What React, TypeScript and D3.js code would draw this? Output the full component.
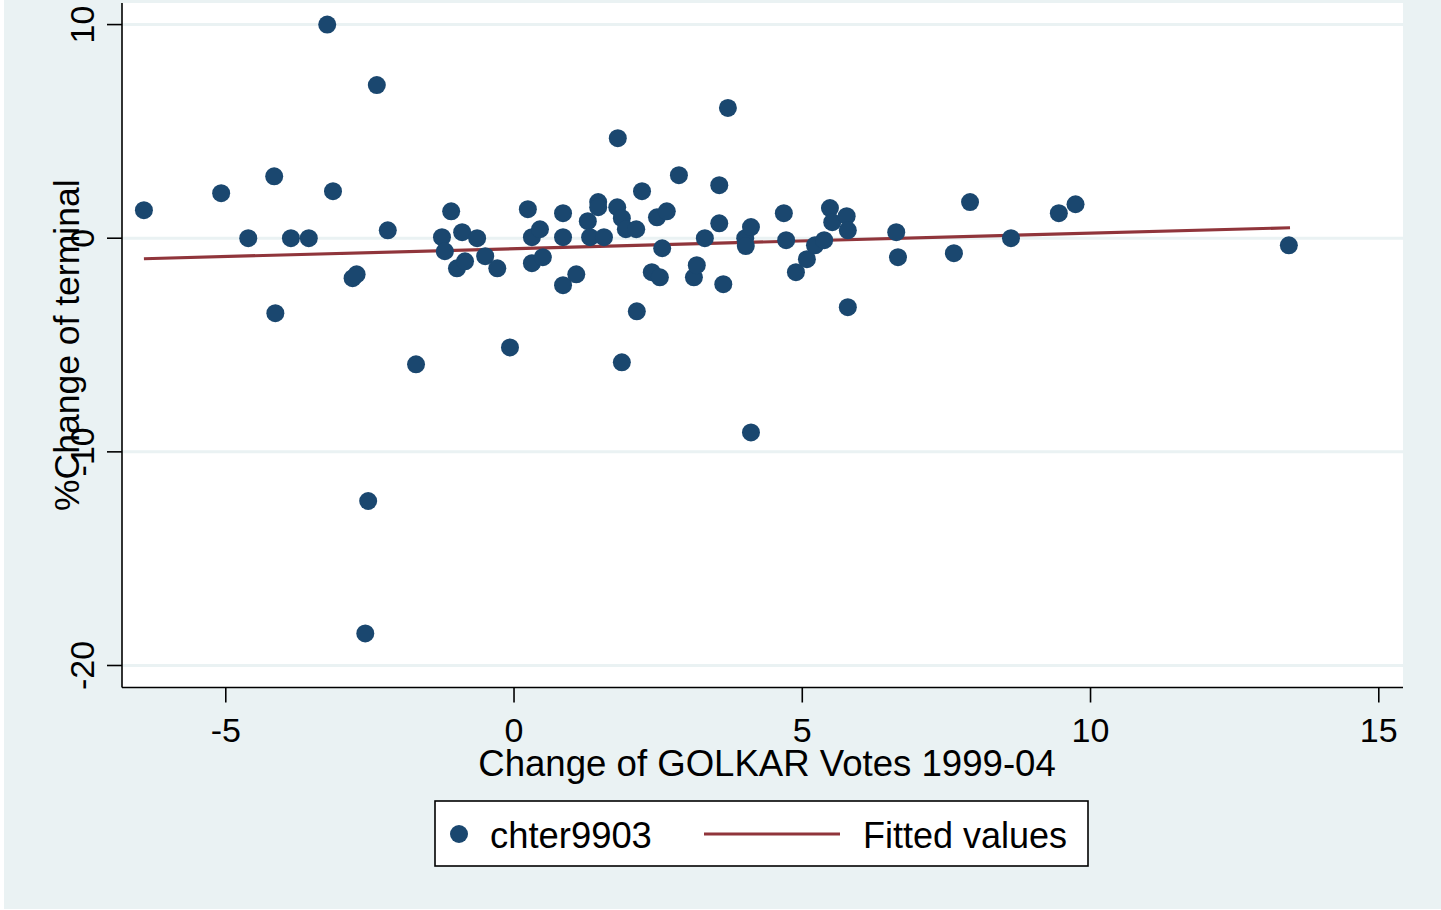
import React from "react";
import * as d3 from "d3";

// ---- data ----
const pointX: number[] = [
  -6.42, -5.08, -4.61, -4.16, -4.14, -3.87, -3.56, -3.24, -3.14, -2.8,
  -2.73, -2.38, -2.53, -2.58, -2.19, -1.7, -1.25, -1.2, -1.09, -0.9,
  -0.99, -0.85, -0.64, -0.5, -0.29, -0.07, 0.24, 0.31, 0.45, 0.31,
  0.5, 0.85, 0.85, 0.85, 1.08, 1.28, 1.32, 1.46, 1.46, 1.56,
  1.79, 1.87, 1.94, 2.12, 1.8, 2.22, 1.87, 2.13, 2.48, 2.65,
  2.57, 2.39, 2.53, 2.86, 3.12, 3.17, 3.31, 3.56, 3.56, 3.63,
  3.71, 4.01, 4.11, 4.02, 4.11, 4.68, 4.72, 4.89, 5.08, 5.22,
  5.38, 5.48, 5.52, 5.77, 5.79, 5.79, 6.63, 6.66, 7.63, 7.91,
  8.62, 9.45, 9.74, 13.44,
];
const pointY: number[] = [
  1.31, 2.11, 0, 2.9, -3.51, 0, 0, 10.0, 2.2, -1.87,
  -1.69, 7.17, -12.3, -18.5, 0.37, -5.9, 0.05, -0.61, 1.26, 0.28,
  -1.41, -1.08, 0, -0.84, -1.41, -5.11, 1.36, 0.05, 0.42, -1.17,
  -0.89, 1.17, 0.05, -2.2, -1.69, 0.8, 0.05, 1.69, 1.45, 0.05,
  1.45, 0.94, 0.42, 0.42, 4.68, 2.2, -5.81, -3.42, 0.98, 1.26,
  -0.47, -1.59, -1.83, 2.95, -1.83, -1.26, 0, 2.48, 0.7, -2.15,
  6.1, 0, 0.52, -0.37, -9.09, 1.17, -0.09, -1.59, -0.98, -0.33,
  -0.09, 1.41, 0.75, 1.03, 0.37, -3.23, 0.28, -0.89, -0.7, 1.69,
  0, 1.17, 1.59, -0.33,
];
const fitX: number[] = [-6.42, 13.46];
const fitY: number[] = [-0.96, 0.49];

const xTicks: number[] = [-5, 0, 5, 10, 15];
const yTicks: number[] = [-20, -10, 0, 10];
const xTitle = "Change of GOLKAR Votes 1999-04";
const yTitle = "%Change of terminal";
const legendLabels: string[] = ["chter9903", "Fitted values"];

// ---- styles ----
const W = 1441;
const H = 910;
const BG = "#EAF2F3";
const MARKER = "#1A476F";
const LINE = "#90353B";
const FONT = "'Liberation Sans', Arial, Helvetica, sans-serif";

export default function App() {
  const plot = { left: 122, right: 1403, top: 3, bottom: 687.5 };
  const x = d3.scaleLinear().domain([-6.8, 15.42]).range([plot.left, plot.right]);
  const y = d3.scaleLinear().domain([-21.03, 11.01]).range([plot.bottom, plot.top]);

  const lineGen = d3
    .line<[number, number]>()
    .x((d) => x(d[0]))
    .y((d) => y(d[1]));
  const fitPts: [number, number][] = fitX.map((v, i) => [v, fitY[i]]);

  const legend = { x: 435, y: 801, w: 653, h: 65 };
  const legendMid = legend.y + legend.h / 2 + 0.5;

  return (
    <div style={{ position: "absolute", left: 0, top: 0, width: W, height: H, overflow: "hidden" }}>
      <svg width={W} height={H} style={{ display: "block" }} fontFamily={FONT}>
        <rect x={0} y={0} width={W} height={H} fill="#ffffff" />
        <rect x={4} y={0} width={W - 4} height={909} fill={BG} />
        <rect
          x={plot.left}
          y={plot.top}
          width={plot.right - plot.left}
          height={plot.bottom - plot.top}
          fill="#ffffff"
        />
        {/* gridlines */}
        {yTicks.map((t) => (
          <line
            key={"g" + t}
            x1={plot.left}
            x2={plot.right}
            y1={y(t)}
            y2={y(t)}
            stroke={BG}
            strokeWidth={3}
          />
        ))}
        {/* fitted line */}
        <path d={lineGen(fitPts) || ""} fill="none" stroke={LINE} strokeWidth={3.2} />
        {/* points */}
        {pointX.map((v, i) => (
          <circle key={"p" + i} cx={x(v)} cy={y(pointY[i])} r={9} fill={MARKER} />
        ))}
        {/* axes */}
        <line x1={plot.left} x2={plot.left} y1={plot.top} y2={plot.bottom} stroke="#000" strokeWidth={1.6} />
        <line x1={plot.left} x2={plot.right} y1={plot.bottom} y2={plot.bottom} stroke="#000" strokeWidth={1.6} />
        {yTicks.map((t) => (
          <g key={"yt" + t}>
            <line x1={plot.left - 15} x2={plot.left} y1={y(t)} y2={y(t)} stroke="#000" strokeWidth={1.6} />
            <text
              transform={`translate(94,${y(t)}) rotate(-90)`}
              textAnchor="middle"
              fontSize={34}
              fill="#000"
            >
              {String(t)}
            </text>
          </g>
        ))}
        {xTicks.map((t) => (
          <g key={"xt" + t}>
            <line x1={x(t)} x2={x(t)} y1={plot.bottom} y2={plot.bottom + 15} stroke="#000" strokeWidth={1.6} />
            <text x={x(t)} y={742} textAnchor="middle" fontSize={34} fill="#000">
              {String(t)}
            </text>
          </g>
        ))}
        {/* axis titles */}
        <text x={767} y={775.5} textAnchor="middle" fontSize={36.6} fill="#000">
          {xTitle}
        </text>
        <text
          transform={`translate(79,${(plot.top + plot.bottom) / 2}) rotate(-90)`}
          textAnchor="middle"
          fontSize={35.5}
          fill="#000"
        >
          {yTitle}
        </text>
        {/* legend */}
        <rect
          x={legend.x}
          y={legend.y}
          width={legend.w}
          height={legend.h}
          fill="#ffffff"
          stroke="#000"
          strokeWidth={1.6}
        />
        <circle cx={459} cy={legendMid} r={9} fill={MARKER} />
        <text x={490} y={847.5} fontSize={36.4} fill="#000">
          {legendLabels[0]}
        </text>
        <line x1={704} x2={840} y1={legendMid} y2={legendMid} stroke={LINE} strokeWidth={3.2} />
        <text x={863} y={847.5} fontSize={36} fill="#000">
          {legendLabels[1]}
        </text>
      </svg>
    </div>
  );
}
